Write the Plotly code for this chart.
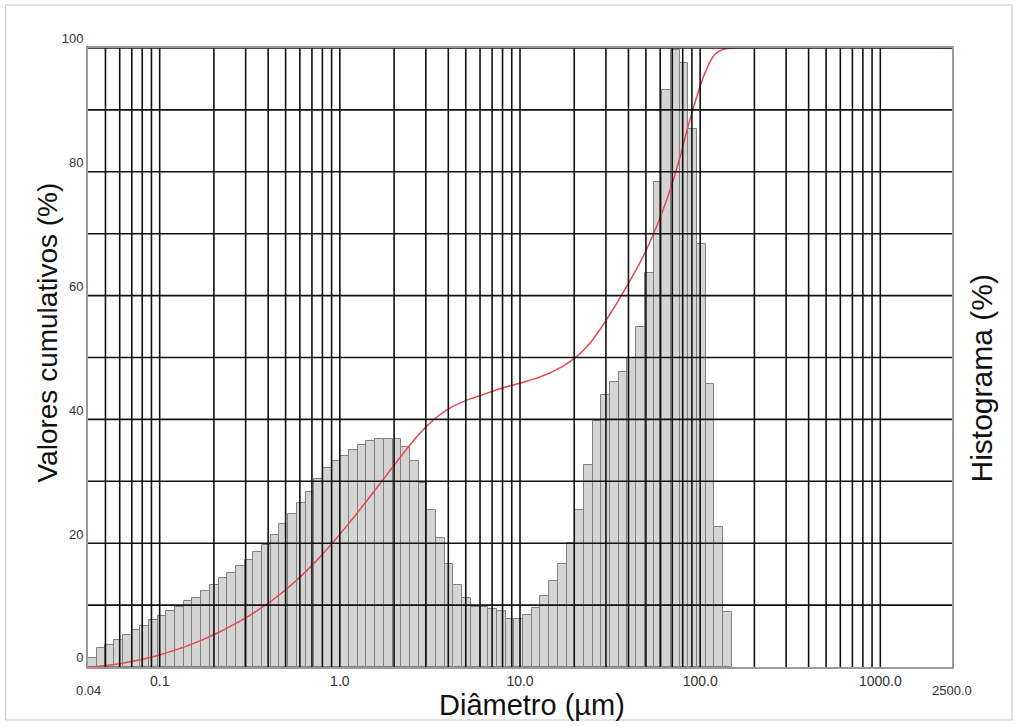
import numpy as np
import plotly.graph_objects as go

# Size classes (µm): bin edges of the histogram
size_edges = [0.0400, 0.04471, 0.04996, 0.05584, 0.06241, 0.06975, 0.07795, 0.08712,
              0.09737, 0.1088, 0.1216, 0.1359, 0.1519, 0.1698, 0.1898, 0.2121, 0.2370,
              0.2649, 0.2961, 0.3309, 0.3698, 0.4133, 0.4619, 0.5162, 0.5769, 0.6448,
              0.7206, 0.8054, 0.9002, 1.006, 1.125, 1.257, 1.405, 1.570, 1.755, 1.961,
              2.192, 2.450, 2.738, 3.060, 3.420, 3.822, 4.272, 4.775, 5.336, 5.964,
              6.666, 7.450, 8.326, 9.305, 10.40, 11.62, 12.99, 14.52, 16.23, 18.13,
              20.27, 22.65, 25.32, 28.29, 31.62, 35.34, 39.50, 44.15, 49.34, 55.14,
              61.63, 68.88, 76.98, 86.03, 96.14, 107.5, 120.1, 134.2, 150.0]

# Histogram heights (relative, drawn against the 0-100 grid)
histogram = [1.4, 3.0, 3.5, 4.4, 5.1, 6.0, 6.6, 7.6, 8.2, 9.0,
             9.7, 10.7, 11.2, 12.3, 13.2, 14.3, 15.2, 16.3, 17.3, 18.6,
             19.7, 21.3, 23.1, 24.7, 26.5, 28.3, 30.4, 32.1, 33.3, 34.1,
             35.0, 35.9, 36.5, 36.9, 36.9, 36.9, 35.6, 33.3, 29.8, 25.4,
             20.8, 16.7, 13.2, 11.1, 9.7, 9.7, 9.3, 9.0, 7.8, 7.8,
             8.4, 9.6, 11.4, 13.9, 16.6, 20.1, 25.4, 32.6, 39.7, 43.9,
             46.1, 47.6, 49.9, 55.0, 63.7, 78.3, 93.2, 99.6, 97.6, 86.9,
             68.3, 45.8, 22.6, 8.9]

# Cumulative values (%) at each size edge, then to the end of the range
cum_diam = size_edges + [2500.0]
cumulative = [0.0, 0.07, 0.22, 0.39, 0.61, 0.87, 1.16, 1.49, 1.87, 2.28, 2.73, 3.21,
              3.74, 4.30, 4.91, 5.57, 6.28, 7.04, 7.85, 8.71, 9.63, 10.61, 11.67,
              12.82, 14.05, 15.37, 16.78, 18.29, 19.89, 21.55, 23.24, 24.99, 26.77,
              28.59, 30.43, 32.26, 34.10, 35.87, 37.53, 39.01, 40.27, 41.31, 42.14,
              42.80, 43.35, 43.83, 44.31, 44.78, 45.23, 45.61, 46.00, 46.42, 46.90,
              47.46, 48.16, 48.98, 49.98, 51.25, 52.87, 54.84, 57.03, 59.32, 61.69,
              64.18, 66.91, 70.0, 73.5, 77.5, 82.2, 87.5, 92.3, 96.3, 98.9,
              99.8, 100.0, 100.0, 100.0]

x_tick_vals = [0.1, 1, 10, 100, 1000]
x_tick_text = ["0.1", "1.0", "10.0", "100.0", "1000.0"]
y_tick_vals = [0, 20, 40, 60, 80, 100]
y_tick_text = ["0", "20", "40", "60", "80", "100"]

edges = np.array(size_edges)
lo, hi = edges[:-1], edges[1:]
# bar positions are linear data values on a log axis: span exactly lo..hi
bar_mid = (lo + hi) / 2.0
bar_width = hi - lo

FONT = "Arial, Liberation Sans, Helvetica, sans-serif"
GRID = "#111111"
TICK = "#333333"

fig = go.Figure()
fig.add_trace(go.Bar(
    x=bar_mid, y=histogram, width=bar_width,
    marker=dict(color="#d4d4d4", line=dict(color="#808080", width=1)),
    showlegend=False, hoverinfo="skip"))
fig.add_trace(go.Scatter(
    x=cum_diam, y=cumulative, mode="lines", line_shape="spline",
    line=dict(color="#e8474f", width=1.5), showlegend=False))

# grid lines drawn above the bars
grid_x = [m * 10.0 ** e for e in range(-2, 3) for m in range(1, 10)]
grid_x = [g for g in grid_x if 0.045 < g < 950] + [1000.0]
shapes = []
for g in grid_x:
    shapes.append(dict(type="line", xref="x", yref="y", x0=g, x1=g, y0=0, y1=100,
                       line=dict(color=GRID, width=1.6), layer="above"))
for v in range(10, 101, 10):
    shapes.append(dict(type="line", xref="paper", yref="y", x0=0, x1=1, y0=v, y1=v,
                       line=dict(color=GRID, width=1.6), layer="above"))
# outer frame of the picture
shapes.append(dict(type="rect", xref="paper", yref="paper",
                   x0=-0.0955, x1=1.0695, y0=-0.0856, y1=1.0695,
                   line=dict(color="#c8c8c8", width=1.2), layer="below"))

fig.update_layout(
    width=1017, height=726,
    margin=dict(l=88, r=65, t=48, b=59),
    paper_bgcolor="white", plot_bgcolor="white",
    font=dict(family=FONT, color=TICK),
    bargap=0,
    shapes=shapes,
    xaxis=dict(type="log", range=[np.log10(0.04), np.log10(2500)],
               tickvals=x_tick_vals, ticktext=x_tick_text, ticks="",
               showgrid=False, zeroline=False, tickfont=dict(size=14, color=TICK),
               showline=True, linecolor="#9a9a9a", linewidth=2, mirror=True),
    yaxis=dict(range=[0, 100], tickvals=y_tick_vals, ticktext=y_tick_text, ticks="",
               showgrid=False, zeroline=False, tickfont=dict(size=13, color=TICK),
               ticklabelposition="outside top",
               showline=True, linecolor="#9a9a9a", linewidth=2, mirror=True),
    annotations=[
        dict(text="0.04", xref="paper", yref="paper", x=0, y=0, xanchor="center",
             yanchor="middle", yshift=-23, showarrow=False,
             font=dict(size=13, color=TICK)),
        dict(text="2500.0", xref="paper", yref="paper", x=1, y=0, xanchor="center",
             yanchor="middle", yshift=-23, showarrow=False,
             font=dict(size=13, color=TICK)),
        dict(text="Diâmetro (µm)", xref="paper", yref="paper", x=0.5, y=0,
             xanchor="center", yanchor="middle", xshift=12, yshift=-38, showarrow=False,
             font=dict(size=29, color="#111111")),
        dict(text="Valores cumulativos (%)", xref="paper", yref="paper", x=0, y=0.5,
             xanchor="center", yanchor="middle", xshift=-41, yshift=25, textangle=-90,
             showarrow=False, font=dict(size=28, color="#111111")),
        dict(text="Histograma (%)", xref="paper", yref="paper", x=1, y=0.5,
             xanchor="center", yanchor="middle", xshift=29, yshift=-21, textangle=-90,
             showarrow=False, font=dict(size=30, color="#111111")),
    ],
)

fig.write_html("out.html", config={"displayModeBar": False},
               post_script="document.body.style.margin='0px';")
